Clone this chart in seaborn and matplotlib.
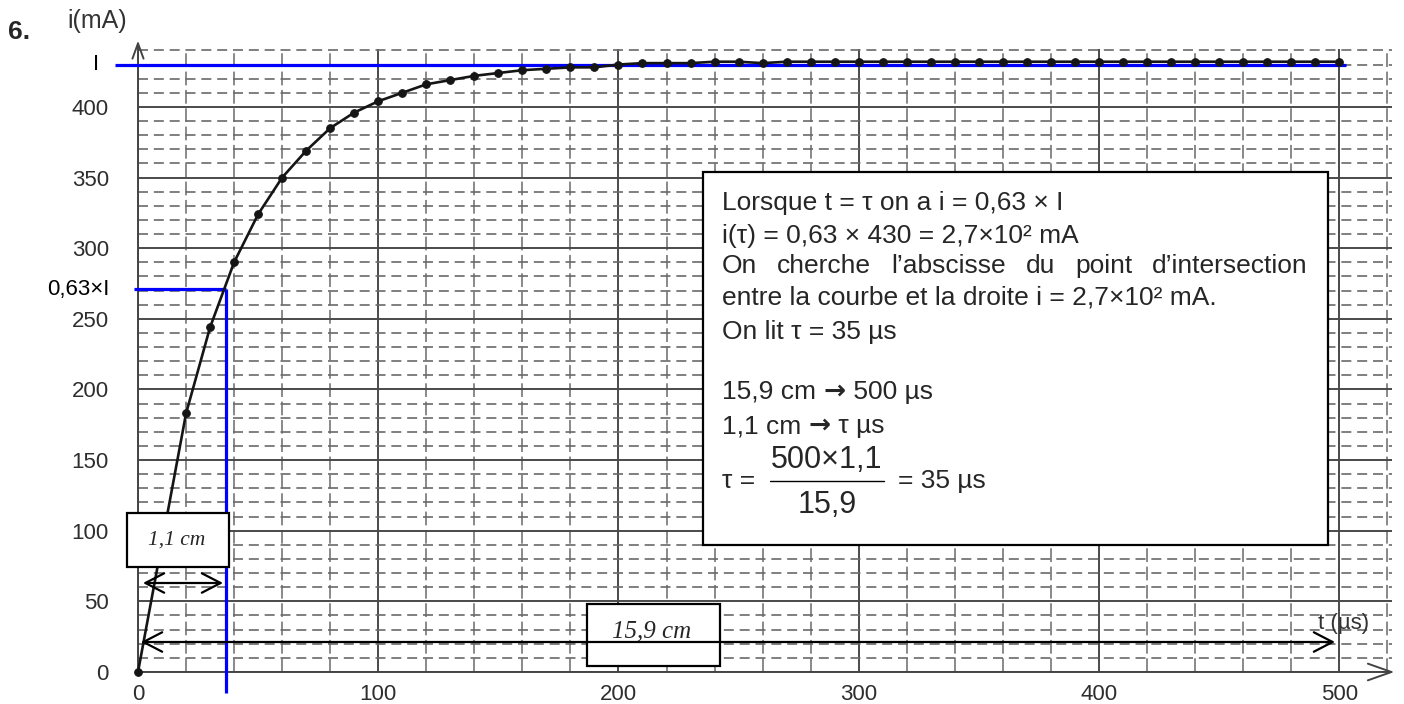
import numpy as np
import matplotlib
matplotlib.use("Agg")
import matplotlib.pyplot as plt
import seaborn as sns
from matplotlib.patches import Rectangle, FancyArrowPatch, ArrowStyle
from matplotlib.lines import Line2D

# ---------------- data ----------------
t_us = [0, 20, 30, 40, 50, 60, 70, 80, 90, 100, 110, 120, 130, 140, 150, 160, 170, 180, 190, 200,
        210, 220, 230, 240, 250, 260, 270, 280, 290, 300, 310, 320, 330, 340, 350, 360, 370, 380,
        390, 400, 410, 420, 430, 440, 450, 460, 470, 480, 490, 500]
i_mA = [0, 183, 244, 290, 324, 350, 369, 385, 396, 404, 410, 416, 419, 422, 424, 426, 427, 428, 428, 430,
        431, 431, 431, 432, 432, 431, 432, 432, 432, 432, 432, 432, 432, 432, 432, 432, 432, 432,
        432, 432, 432, 432, 432, 432, 432, 432, 432, 432, 432, 432]
x_major = [0, 100, 200, 300, 400, 500]
y_major = [0, 50, 100, 150, 200, 250, 300, 350, 400]
I_MAX = 430          # asymptote I
I_TAU = 0.63 * I_MAX  # 0.63 x I
TAU_DRAWN = 36.5     # where the vertical blue line is drawn

box_lines = [
    ["Lorsque t = \u03c4 on a i = 0,63 \u00d7 I"],
    ["i(\u03c4) = 0,63 \u00d7 430 = 2,7\u00d710\u00b2 mA"],
    None,  # justified line
    ["entre la courbe et la droite i = 2,7\u00d710\u00b2 mA."],
    ["On lit \u03c4 = 35 \u00b5s"],
    ["15,9 cm ", "\u2192", " 500 \u00b5s"],
    ["1,1 cm ", "\u2192", " \u03c4 \u00b5s"],
]
justified_words = ["On", "cherche", "l\u2019abscisse", "du", "point", "d\u2019intersection"]

# ---------------- figure ----------------
sns.set_style("white")
plt.rcParams['font.family'] = ['Liberation Sans', 'DejaVu Sans']

W, H = 1404, 704
fig = plt.figure(figsize=(14.04, 7.04), dpi=100)
fig.patch.set_facecolor('white')

def fx(x):
    return x / W

def fy(y):
    return 1 - y / H

X0, X1 = 138, 1392
Y0, Y1 = 672, 49
XMAX, YMAX = 522, 441
ax = fig.add_axes([fx(X0), fy(Y0), (X1 - X0) / W, (Y0 - Y1) / H])
ax.set_xlim(0, XMAX)
ax.set_ylim(0, YMAX)
ax.set_facecolor('white')

ax.set_xticks(x_major)
ax.set_xticks([v for v in range(20, 521, 20) if v not in x_major], minor=True)
ax.set_yticks(y_major)
ax.set_yticks([v for v in range(10, 441, 10) if v not in y_major], minor=True)
ax.grid(which='major', color='#4a4a4a', lw=1.4, ls='-')
ax.grid(which='minor', axis='y', color='#6a6a6a', lw=1.2, ls=(0, (6, 3.5)))
ax.grid(which='minor', axis='x', color='#6a6a6a', lw=1.1, ls=(0, (9, 3)))
ax.set_axisbelow(True)
for s in ax.spines.values():
    s.set_visible(False)
ax.tick_params(which='both', length=0, labelsize=16, labelcolor='#2e2e2e')
ax.tick_params(axis='y', pad=21)
ax.tick_params(axis='x', pad=9)
ax.set_xlabel('')
ax.set_ylabel('')

# axes arrows
ax.annotate('', xy=(0, 447), xytext=(0, 0), xycoords='data', annotation_clip=False,
            arrowprops=dict(arrowstyle=ArrowStyle('->', head_length=0.55, head_width=0.2),
                            color='#444444', lw=1.4, shrinkA=0, shrinkB=0, mutation_scale=20))
ax.annotate('', xy=(523, 0), xytext=(0, 0), xycoords='data', annotation_clip=False,
            arrowprops=dict(arrowstyle=ArrowStyle('->', head_length=0.85, head_width=0.3),
                            color='#444444', lw=1.4, shrinkA=0, shrinkB=0, mutation_scale=20))

# blue construction lines
BLUE = '#0000ff'
ax.hlines(I_MAX, -9.6, 503, colors=BLUE, lw=2.3, clip_on=False, zorder=3)
ax.hlines(I_TAU, -1.7, TAU_DRAWN, colors=BLUE, lw=2.3, clip_on=False, zorder=3)
ax.vlines(TAU_DRAWN, -15, I_TAU, colors=BLUE, lw=2.3, clip_on=False, zorder=3)

# measured curve
sns.lineplot(x=t_us, y=i_mA, ax=ax, color='#151515', lw=1.9, marker='o', markersize=5.5,
             markeredgecolor='#151515', clip_on=False, zorder=5, sort=False)

# labels around the axes
ax.text(-17.5, I_MAX, 'I', ha='center', va='center', fontsize=16, color='black', clip_on=False)
ax.text(-11.7, I_TAU, '0,63\u00d7I', ha='right', va='center', fontsize=16, color='black', clip_on=False)
fig.text(fx(8), fy(39), '6.', fontsize=19, fontweight='bold', ha='left', va='baseline')
fig.text(fx(67), fy(28), 'i(mA)', fontsize=18, color='#333333', ha='left', va='baseline')
fig.text(fx(1344), fy(624), 't (\u00b5s)', fontsize=16, color='#333333', ha='center', va='center', zorder=6)

# ---------------- annotation boxes ----------------
def px_rect(x0, y0, x1, y1, lw=1.6):
    r = Rectangle((fx(x0), fy(y1)), (x1 - x0) / W, (y1 - y0) / H, transform=fig.transFigure,
                  facecolor='white', edgecolor='black', lw=lw, zorder=5)
    fig.add_artist(r)

def px_arrow(x0, x1, y):
    a = FancyArrowPatch((fx(x0), fy(y)), (fx(x1), fy(y)), transform=fig.transFigure,
                        arrowstyle=ArrowStyle('<->', head_length=13.5, head_width=7),
                        mutation_scale=1, color='black', lw=1.6, shrinkA=0, shrinkB=0, zorder=6)
    fig.add_artist(a)

# big explanation box
px_rect(703, 172, 1328, 545)
TXT_SIZE = 19
baselines = [210, 243, 273, 305, 339, 399, 433]
TXT_X = 722

renderer = fig.canvas.get_renderer()

def place_pieces(pieces, x0, yb):
    x = x0
    for p in pieces:
        if p == "\u2192":
            o = fig.text(fx(x), fy(yb), p, fontsize=TXT_SIZE, family='DejaVu Sans',
                         fontweight='bold', ha='left', va='baseline', zorder=6)
        else:
            o = fig.text(fx(x), fy(yb), p, fontsize=TXT_SIZE, ha='left', va='baseline', zorder=6)
        x += o.get_window_extent(renderer=renderer).width

for pieces, yb in zip(box_lines, baselines):
    if pieces is None:
        continue
    place_pieces(pieces, TXT_X, yb)

# justified line
word_objs = [fig.text(fx(TXT_X), fy(baselines[2]), w, fontsize=TXT_SIZE, ha='left',
                      va='baseline', zorder=6) for w in justified_words]
widths = [o.get_window_extent(renderer=renderer).width for o in word_objs]
right_edge = 1308
gap = (right_edge - TXT_X - sum(widths)) / (len(widths) - 1)
xpos = TXT_X
for o, wdt in zip(word_objs, widths):
    o.set_x(fx(xpos))
    xpos += wdt + gap

# fraction
FR_SIZE = 22
fig.text(fx(722), fy(488), '\u03c4 =', fontsize=TXT_SIZE, ha='left', va='baseline', zorder=6)
fig.text(fx(827), fy(468), '500\u00d71,1', fontsize=FR_SIZE, ha='center', va='baseline', zorder=6)
fig.text(fx(827), fy(513), '15,9', fontsize=FR_SIZE, ha='center', va='baseline', zorder=6)
fig.add_artist(Line2D([fx(770), fx(884)], [fy(481), fy(481)], transform=fig.transFigure,
                      color='black', lw=1.0, zorder=6))
fig.text(fx(898), fy(488), '= 35 \u00b5s', fontsize=TXT_SIZE, ha='left', va='baseline', zorder=6)

# small boxes with distances
px_rect(127, 513, 229, 567)
fig.text(fx(177), fy(540), '1,1 cm', fontsize=15.5, family='Liberation Serif', style='italic',
         ha='center', va='center', zorder=6)
px_arrow(143, 223, 583)

px_arrow(141, 1335, 642)
px_rect(587, 604, 720, 666)
fig.text(fx(652), fy(631), '15,9 cm', fontsize=18, family='Liberation Serif', style='italic',
         ha='center', va='center', zorder=6)

fig.savefig('out.png', dpi=100, facecolor='white')
